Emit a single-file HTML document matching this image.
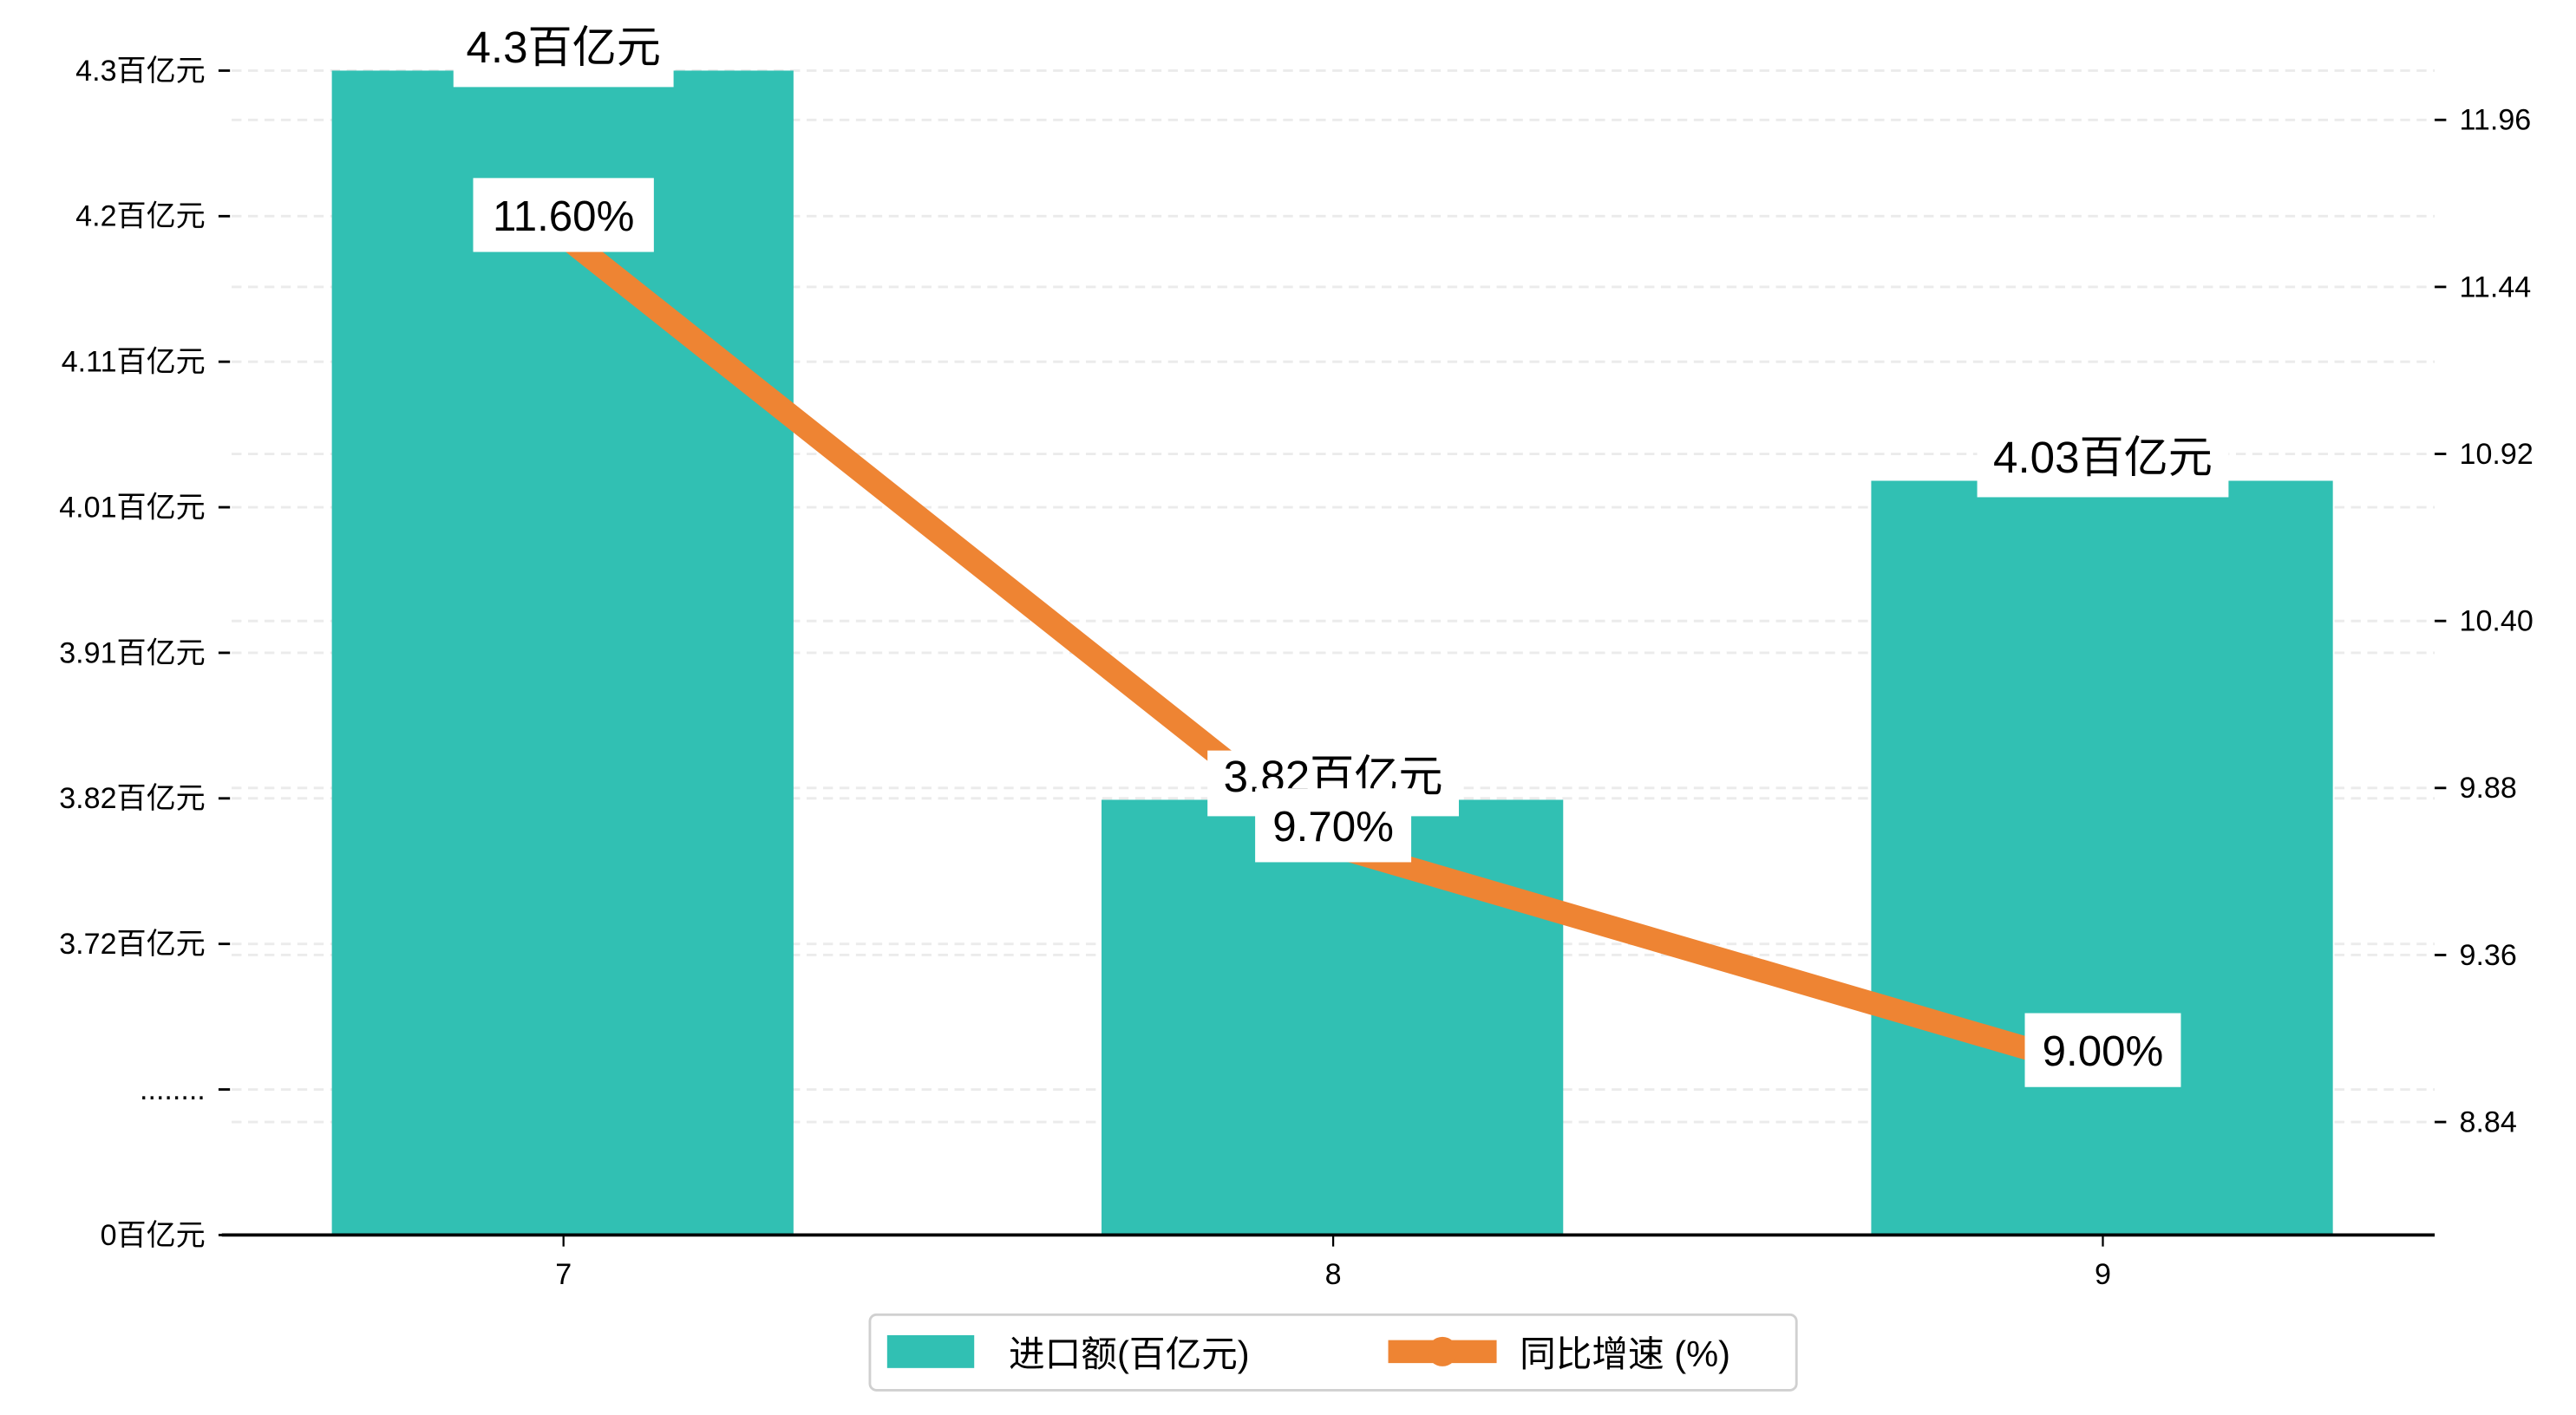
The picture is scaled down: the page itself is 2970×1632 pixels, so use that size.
<!DOCTYPE html>
<html><head><meta charset="utf-8"><style>
html,body{margin:0;padding:0;background:#fff;}
svg{display:block;}
text{font-family:"WenQuanYi Zen Hei","Liberation Sans","Noto Sans CJK SC",sans-serif;}
</style></head><body>
<svg id="chart" width="2970" height="1632" viewBox="0 0 1568 861.6" preserveAspectRatio="none" xmlns="http://www.w3.org/2000/svg">
<g id="grid"></g>
<g id="bars"></g>
<g id="line"></g>
<g id="axes"></g>
<g id="labels"></g>
<g id="legend">
  <rect x="529.5" y="800.5" width="564" height="46" rx="4" fill="#fff" stroke="#d0d0d0" stroke-width="1.5"/>
  <rect x="540" y="813" width="53" height="20" fill="#31c0b3"/>
  <text x="614" y="832" font-size="22">进口额(百亿元)</text>
  <line x1="845" y1="823" x2="911" y2="823" stroke="#ee8433" stroke-width="14"/>
  <circle cx="878" cy="823" r="9" fill="#ee8433"/>
  <text x="925" y="832" font-size="22">同比增速 (%)</text>
</g>
</svg>
<script>
const categories = ["7", "8", "9"];
const importValues = [4.3, 3.82, 4.03];
const importLabels = ["4.3百亿元", "3.82百亿元", "4.03百亿元"];
const growthValues = [11.6, 9.7, 9.0];
const growthLabels = ["11.60%", "9.70%", "9.00%"];
const leftTickLabels = ["4.3百亿元", "4.2百亿元", "4.11百亿元", "4.01百亿元", "3.91百亿元", "3.82百亿元", "3.72百亿元", "........", "0百亿元"];
const rightTickValues = [11.96, 11.44, 10.92, 10.40, 9.88, 9.36, 8.84];

const NS = "http://www.w3.org/2000/svg";
const plotL = 135, plotR = 1482, baseY = 752;
function xPos(i){ return 343 + i * 468.5; }
function yLeft(v){ return 43 + (4.3 - v) * 925; }
function yRight(v){ return 73 + (11.96 - v) / 0.52 * 101.7; }
function mk(tag, attrs, parent){ const e = document.createElementNS(NS, tag); for (const k in attrs) e.setAttribute(k, attrs[k]); parent.appendChild(e); return e; }

const grid = document.getElementById('grid'), bars = document.getElementById('bars'),
      line = document.getElementById('line'), axes = document.getElementById('axes'), labels = document.getElementById('labels');

leftTickLabels.forEach((t, i) => {
  const y = 43 + i * (baseY - 43) / (leftTickLabels.length - 1);
  if (i < leftTickLabels.length - 1) {
    const g = mk('line', {x1: 141, x2: plotR, y1: y, y2: y, stroke: '#ebebeb', 'stroke-width': 1.5, 'stroke-dasharray': '6,4'}, grid);
    
    
  }
  const tk = mk('line', {x1: 133, x2: 140, y1: y, y2: y, stroke: '#000', 'stroke-width': 1.5}, axes);
  
  
  const tx = mk('text', {x: 125, y: y + 6, 'font-size': 18, 'text-anchor': 'end'}, axes);
  tx.textContent = t;
  
  
});
rightTickValues.forEach(v => {
  const y = yRight(v);
  const g = mk('line', {x1: 141, x2: plotR, y1: y, y2: y, stroke: '#ebebeb', 'stroke-width': 1.5, 'stroke-dasharray': '6,4'}, grid);
  
  
  const tk = mk('line', {x1: 1482, x2: 1489, y1: y, y2: y, stroke: '#000', 'stroke-width': 1.5}, axes);
  
  
  const tx = mk('text', {x: 1497, y: y + 6, 'font-size': 18}, axes);
  tx.textContent = v.toFixed(2);
  
  
});
categories.forEach((c, i) => {
  const top = yLeft(importValues[i]);
  const b = mk('rect', {x: xPos(i) - 141, y: top, width: 281, height: baseY - top, fill: '#31c0b3'}, bars);
  
  
  const tk = mk('line', {x1: xPos(i), x2: xPos(i), y1: baseY, y2: baseY + 7, stroke: '#000', 'stroke-width': 1.2}, axes);
  
  
  const tx = mk('text', {x: xPos(i), y: 782, 'font-size': 18, 'text-anchor': 'middle'}, axes);
  tx.textContent = c;
  
  
});
const ax = mk('line', {x1: plotL, x2: plotR, y1: baseY, y2: baseY, stroke: '#000', 'stroke-width': 2}, axes);


const pts = growthValues.map((v, i) => xPos(i) + ',' + yRight(v)).join(' ');
const pl = mk('polyline', {points: pts, fill: 'none', stroke: '#ee8433', 'stroke-width': 14, 'stroke-linejoin': 'round'}, line);


categories.forEach((c, i) => {
  const y = yLeft(importValues[i]);
  const w = importLabels[i].length * 19 + 20;
  const r = mk('rect', {x: xPos(i) - w / 2, y: y - 30, width: w, height: 40, fill: '#fff'}, labels);
  
  
  const t = mk('text', {x: xPos(i), y: y - 5, 'font-size': 27, 'text-anchor': 'middle'}, labels);
  t.textContent = importLabels[i];
  
  
});
categories.forEach((c, i) => {
  const y = yRight(growthValues[i]);
  const w = growthLabels[i].length * 15 + 20;
  const r = mk('rect', {x: xPos(i) - w / 2, y: y - 35, width: w, height: 45, fill: '#fff'}, labels);
  
  
  const t = mk('text', {x: xPos(i), y: y - 3, 'font-size': 26, 'text-anchor': 'middle'}, labels);
  t.textContent = growthLabels[i];
  
  
});
</script>
</body></html>
